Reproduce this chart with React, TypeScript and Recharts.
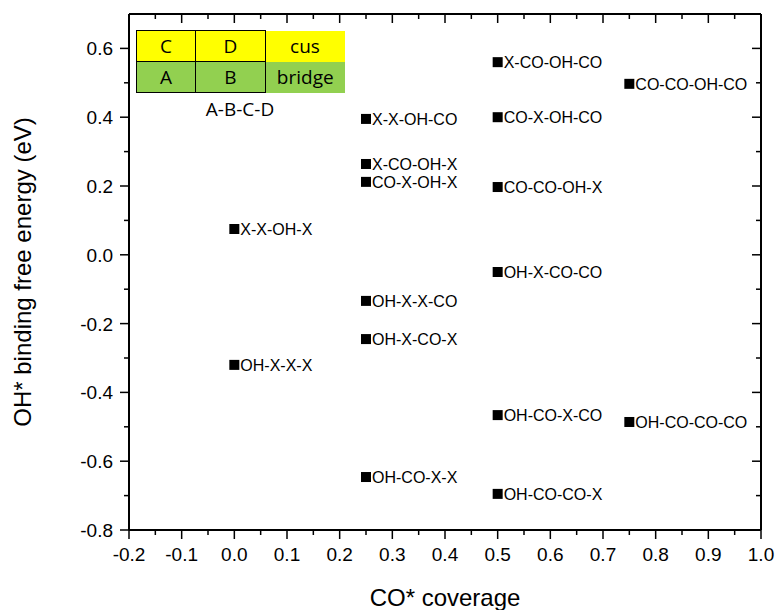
import React from 'react';
import { ScatterChart, Scatter, XAxis, YAxis, Label } from 'recharts';

// CO* coverage of each configuration
const coverage = [0, 0, 0.25, 0.25, 0.25, 0.25, 0.25, 0.25, 0.5, 0.5, 0.5, 0.5, 0.5, 0.5, 0.75, 0.75];
// OH* binding free energy (eV)
const energy = [0.075, -0.32, 0.395, 0.264, 0.212, -0.134, -0.245, -0.646, 0.56, 0.4, 0.197, -0.05, -0.466, -0.695, 0.497, -0.486];
// site occupation A-B-C-D
const configs = [
  'X-X-OH-X', 'OH-X-X-X',
  'X-X-OH-CO', 'X-CO-OH-X', 'CO-X-OH-X', 'OH-X-X-CO', 'OH-X-CO-X', 'OH-CO-X-X',
  'X-CO-OH-CO', 'CO-X-OH-CO', 'CO-CO-OH-X', 'OH-X-CO-CO', 'OH-CO-X-CO', 'OH-CO-CO-X',
  'CO-CO-OH-CO', 'OH-CO-CO-CO',
];

const xTicks = [-0.2, -0.15, -0.1, -0.05, 0, 0.05, 0.1, 0.15, 0.2, 0.25, 0.3, 0.35, 0.4, 0.45, 0.5, 0.55, 0.6, 0.65, 0.7, 0.75, 0.8, 0.85, 0.9, 0.95, 1.0];
const yTicks = [-0.8, -0.7, -0.6, -0.5, -0.4, -0.3, -0.2, -0.1, 0, 0.1, 0.2, 0.3, 0.4, 0.5, 0.6, 0.7];

const points = coverage.map((c, i) => ({ x: c, y: energy[i], name: configs[i] }));

const W = 776;
const H = 610;
const MARGIN = { top: 14, right: 15, bottom: 0, left: 0 };
const PLOT_TOP = MARGIN.top;
const PLOT_RIGHT = W - MARGIN.right;

const FONT = 'Liberation Sans, Arial, sans-serif';

const isMajorX = (v: number) => Math.abs(v * 10 - Math.round(v * 10)) < 1e-6;
const isMajorY = (v: number) => Math.abs(v * 5 - Math.round(v * 5)) < 1e-6;

// bottom tick + mirrored inward tick on the top frame (+ right frame line at the last tick)
const BottomTick = ({ x, y, payload }: any) => {
  const v = payload.value;
  const len = isMajorX(v) ? 9 : 5;
  return (
    <g>
      <line x1={x} x2={x} y1={y} y2={y + len} stroke="#000" strokeWidth={1.5} />
      <line x1={x} x2={x} y1={PLOT_TOP} y2={PLOT_TOP + len} stroke="#000" strokeWidth={1.5} />
      {v > 0.99 && <line x1={x} x2={x} y1={y} y2={PLOT_TOP} stroke="#000" strokeWidth={2} />}
      {isMajorX(v) && (
        <text x={x} y={y + 31} textAnchor="middle" fontSize={19} style={{ fontFamily: FONT }} fill="#000">
          {v.toFixed(1)}
        </text>
      )}
    </g>
  );
};

// left tick + mirrored inward tick on the right frame (+ top frame line at the last tick)
const LeftTick = ({ x, y, payload }: any) => {
  const v = payload.value;
  if (v > 0.65) {
    return <line x1={x} x2={PLOT_RIGHT} y1={y} y2={y} stroke="#000" strokeWidth={2} />;
  }
  const len = isMajorY(v) ? 9 : 5;
  return (
    <g>
      <line x1={x - len} x2={x} y1={y} y2={y} stroke="#000" strokeWidth={1.5} />
      <line x1={PLOT_RIGHT - len} x2={PLOT_RIGHT} y1={y} y2={y} stroke="#000" strokeWidth={1.5} />
      {isMajorY(v) && (
        <text x={x - 16} y={y + 7} textAnchor="end" fontSize={19} style={{ fontFamily: FONT }} fill="#000">
          {v.toFixed(1)}
        </text>
      )}
    </g>
  );
};

const Marker = ({ cx, cy, payload }: any) => (
  <g>
    <rect x={cx - 5} y={cy - 5} width={10} height={10} fill="#000" />
    <text x={cx + 6} y={cy + 6} fontSize={16} style={{ fontFamily: FONT }} fill="#000">
      {payload.name}
    </text>
  </g>
);

const cell = (bg: string, border: boolean, w: number): React.CSSProperties => ({
  background: bg,
  width: w,
  height: 31,
  boxSizing: 'border-box',
  border: border ? '1.5px solid #000' : 'none',
  textAlign: 'center',
  lineHeight: '29px',
  padding: 0,
});

const Inset = () => (
  <div style={{ position: 'absolute', left: 136, top: 30, fontFamily: '"Open Sans", sans-serif', fontSize: 19, color: '#000' }}>
    <table style={{ borderCollapse: 'collapse' }}>
      <tbody>
        <tr>
          <td style={cell('#ffff00', true, 59)}>C</td>
          <td style={cell('#ffff00', true, 70)}>D</td>
          <td style={cell('#ffff00', false, 79)}>cus</td>
        </tr>
        <tr>
          <td style={cell('#92d050', true, 59)}>A</td>
          <td style={cell('#92d050', true, 70)}>B</td>
          <td style={cell('#92d050', false, 79)}>bridge</td>
        </tr>
      </tbody>
    </table>
    <div style={{ width: 208, textAlign: 'center', marginTop: 3 }}>A-B-C-D</div>
  </div>
);

const YTitle = ({ viewBox }: any) => {
  const cx = viewBox.x + 22;
  const cy = viewBox.y + viewBox.height / 2;
  return (
    <text x={cx} y={cy} transform={`rotate(-90 ${cx} ${cy})`} textAnchor="middle" dominantBaseline="central" fontSize={24} style={{ fontFamily: FONT }} fill="#000">
      OH* binding free energy (eV)
    </text>
  );
};

const XTitle = ({ viewBox }: any) => (
  <text x={viewBox.x + viewBox.width / 2} y={viewBox.y + 67} textAnchor="middle" dominantBaseline="central" fontSize={24} style={{ fontFamily: FONT }} fill="#000">
    CO* coverage
  </text>
);

const App = () => (
  <div style={{ position: 'absolute', left: 0, top: 0, width: W, height: H, background: '#fff' }}>
    <ScatterChart width={W} height={H} margin={MARGIN}>
      <XAxis
        xAxisId="b"
        dataKey="x"
        type="number"
        orientation="bottom"
        domain={[-0.2, 1.0]}
        ticks={xTicks}
        interval={0}
        height={80}
        tickSize={0}
        tickMargin={0}
        tickLine={false}
        tick={BottomTick}
        axisLine={{ stroke: '#000', strokeWidth: 2 }}
      >
        <Label content={XTitle} />
      </XAxis>
      <YAxis
        yAxisId="l"
        dataKey="y"
        type="number"
        orientation="left"
        domain={[-0.8, 0.7]}
        ticks={yTicks}
        interval={0}
        width={129}
        tickSize={0}
        tickMargin={0}
        tickLine={false}
        tick={LeftTick}
        axisLine={{ stroke: '#000', strokeWidth: 2 }}
      >
        <Label content={YTitle} />
      </YAxis>
      <Scatter xAxisId="b" yAxisId="l" data={points} shape={Marker} isAnimationActive={false} />
    </ScatterChart>
    <Inset />
  </div>
);

export default App;
